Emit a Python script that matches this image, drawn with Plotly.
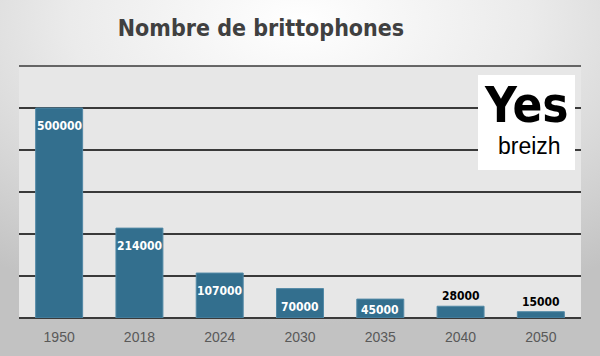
import base64
import plotly.graph_objects as go

years = ["1950", "2018", "2024", "2030", "2035", "2040", "2050"]
speakers = [500000, 214000, 107000, 70000, 45000, 28000, 15000]
label_inside = [True, True, True, True, True, False, False]
title_text = "Nombre de brittophones"

W, H = 600, 356
L, R, T, B = 19, 19, 66, 38
pw, ph = W - L - R, H - T - B
YMAX = 600000

def px_x(p):
    return (p - L) / pw

def px_y(p):
    return (H - B - p) / ph

svg = f'''<svg xmlns="http://www.w3.org/2000/svg" width="{W}" height="{H}" preserveAspectRatio="none">
<defs><radialGradient id="g" cx="0.5" cy="0.06" r="0.85">
<stop offset="0" stop-color="#FFFFFF"/>
<stop offset="0.45" stop-color="#EBEBEB"/>
<stop offset="1" stop-color="#C2C2C2"/>
</radialGradient></defs>
<rect width="{W}" height="{H}" fill="url(#g)"/></svg>'''
bg_src = "data:image/svg+xml;base64," + base64.b64encode(svg.encode()).decode()

COND = "DejaVu Sans Condensed, DejaVu Sans, sans-serif"
label_font = dict(family=COND, size=12, weight="bold")
GRID = "#3A3A3A"

fig = go.Figure()
fig.add_trace(go.Bar(
    x=years, y=speakers,
    marker=dict(color="#336F8E", line=dict(color="#5289A6", width=1)),
    hoverinfo="x+y",
))

annotations = []
for i, (v, inside) in enumerate(zip(speakers, label_inside)):
    bar_px = v / YMAX * ph
    if inside:
        shift = -min(9, max(1, bar_px - 17))
        annotations.append(dict(
            x=i, y=v, xref="x", yref="y", text=f"{v}", showarrow=False,
            yanchor="top", yshift=shift,
            font=dict(label_font, color="#FFFFFF"),
        ))
    else:
        annotations.append(dict(
            x=i, y=v, xref="x", yref="y", text=f"{v}", showarrow=False,
            yanchor="bottom", yshift=1,
            font=dict(label_font, color="#000000"),
        ))

# logo text
annotations.append(dict(
    x=px_x(526.5), y=px_y(105), xref="paper", yref="paper", text="Yes",
    showarrow=False, xanchor="center", yanchor="middle",
    font=dict(family=COND, size=49, color="#000000", weight="bold"),
))
annotations.append(dict(
    x=px_x(529.5), y=px_y(146), xref="paper", yref="paper", text="breizh",
    showarrow=False, xanchor="center", yanchor="middle",
    font=dict(family="Liberation Sans", size=23, color="#000000"),
))

fig.update_layout(
    width=W, height=H,
    margin=dict(l=L, r=R, t=T, b=B, pad=0),
    paper_bgcolor="#D0D0D0",
    plot_bgcolor="rgba(0,0,0,0)",
    showlegend=False,
    bargap=0.415,
    title=dict(
        text=title_text, xref="container", yref="container",
        x=261 / W, y=1 - 28 / H, xanchor="center", yanchor="middle",
        font=dict(family=COND, size=23, color="#404040", weight="bold"),
    ),
    xaxis=dict(
        type="category", range=[-0.5, len(years) - 0.5],
        showgrid=False, showline=False, zeroline=False, ticks="",
        ticklabelstandoff=9,
        tickfont=dict(family="Liberation Sans", size=14, color="#595959"),
        fixedrange=True, automargin=False,
    ),
    yaxis=dict(
        range=[0, YMAX], dtick=100000, showticklabels=False, ticks="",
        showgrid=True, gridcolor=GRID, gridwidth=1.5,
        zeroline=True, zerolinecolor=GRID, zerolinewidth=2,
        showline=False, fixedrange=True, automargin=False,
    ),
    images=[dict(
        source=bg_src, xref="paper", yref="paper",
        x=px_x(0), y=px_y(0), sizex=W / pw, sizey=H / ph,
        xanchor="left", yanchor="top", sizing="stretch", layer="below",
    )],
    shapes=[
        dict(type="rect", xref="paper", yref="paper", x0=0, x1=1, y0=0, y1=1,
             fillcolor="#E7E7E7", line=dict(width=0), layer="below"),
        dict(type="line", xref="paper", yref="paper", x0=0, x1=1, y0=1, y1=1,
             line=dict(color=GRID, width=1.5), layer="below"),
        dict(type="rect", xref="paper", yref="paper",
             x0=px_x(478), x1=px_x(575), y0=px_y(170), y1=px_y(75),
             fillcolor="#FFFFFF", line=dict(width=0), layer="above"),
    ],
    annotations=annotations,
)

fig.write_html("out.html", post_script="document.body.style.margin='0';",
               config={"displayModeBar": False})
